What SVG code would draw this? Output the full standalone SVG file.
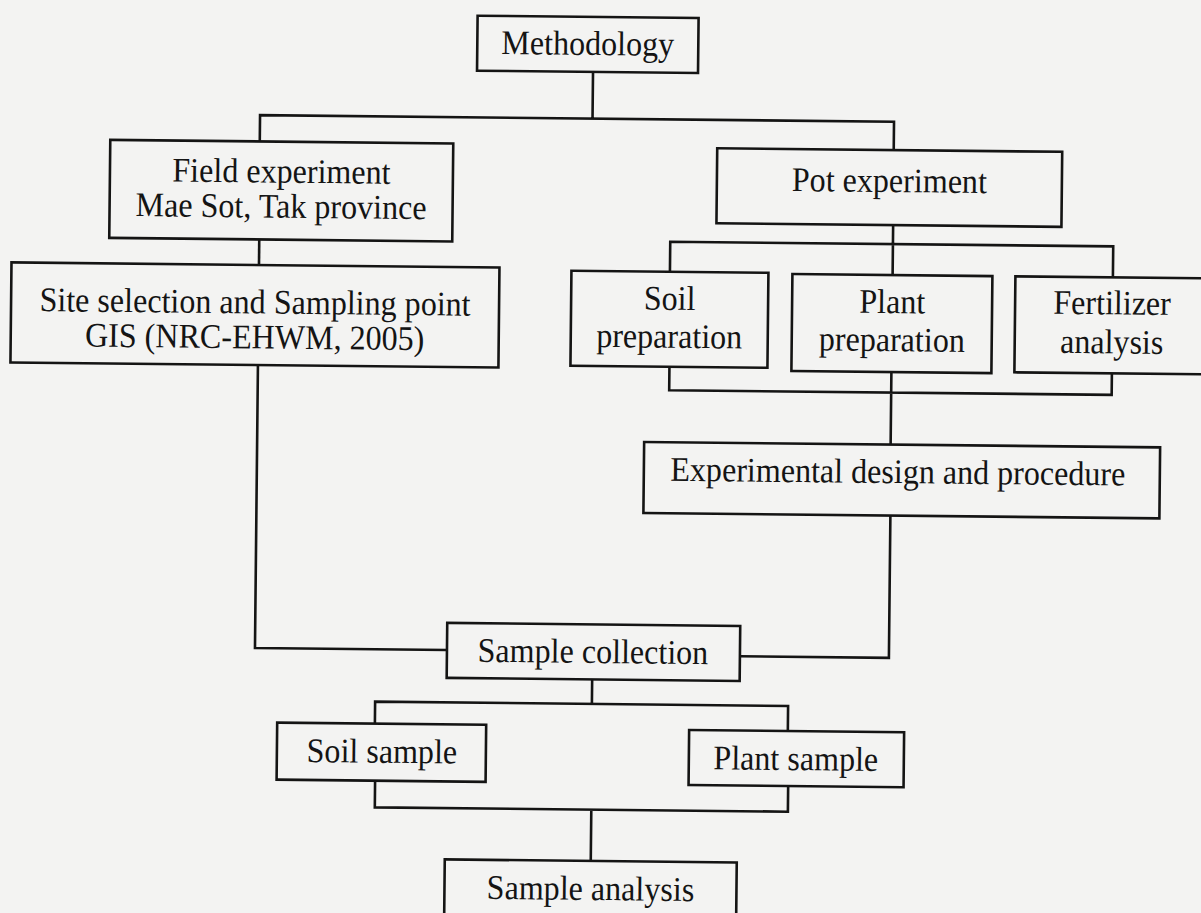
<svg xmlns="http://www.w3.org/2000/svg" width="1201" height="913" viewBox="0 0 1201 913">
<style>
.box{fill:none;stroke:#141414;stroke-width:2.6}
.conn{fill:none;stroke:#141414;stroke-width:2.6;stroke-linejoin:miter}
.label{font-family:"Liberation Serif","Times New Roman",serif;font-size:34.5px;fill:#141414;text-anchor:middle}
</style>
<rect x="0" y="0" width="1201" height="913" fill="#f3f3f2"/>
<g id="diagram" transform="rotate(0.6 600 456)">
<g id="connectors">
<path class="conn" d="M589 72 V118.7 M256.5 145 V118.7 H890.5 V147"/>
<path class="conn" d="M257 243 V268.6"/>
<path class="conn" d="M257 368.6 V651.6 H449"/>
<path class="conn" d="M890.7 222 V272 M668 271 V241 H1111 V272"/>
<path class="conn" d="M668.5 366 V389.5 H1111 V368 M890.5 369 V441.5"/>
<path class="conn" d="M891 512.3 V654.8 H742"/>
<path class="conn" d="M594.5 679.5 V704 M377.7 726 V704 H790.7 V729"/>
<path class="conn" d="M378.5 783 V809.7 H791.6 V784 M595 809.7 V861"/>
</g>
<g id="methodology"><rect class="box" x="473" y="17" width="221" height="55"/><text class="label" transform="translate(583.5 55) scale(0.93 1)">Methodology</text></g>
<g id="field-experiment"><rect class="box" x="107" y="145" width="343" height="98"/><text class="label" transform="translate(278.5 186) scale(0.93 1)">Field experiment</text><text class="label" transform="translate(278.5 221) scale(0.93 1)">Mae Sot, Tak province</text></g>
<g id="site-selection"><rect class="box" x="9.5" y="268.6" width="488" height="100"/><text class="label" transform="translate(253.5 317) scale(0.93 1)">Site selection and Sampling point</text><text class="label" transform="translate(253.5 352) scale(0.93 1)">GIS (NRC-EHWM, 2005)</text></g>
<g id="pot-experiment"><rect class="box" x="714" y="147" width="345" height="75"/><text class="label" transform="translate(886.5 189) scale(0.93 1)">Pot experiment</text></g>
<g id="soil-preparation"><rect class="box" x="569.5" y="271" width="197" height="95"/><text class="label" transform="translate(668 309) scale(0.93 1)">Soil</text><text class="label" transform="translate(668 347) scale(0.93 1)">preparation</text></g>
<g id="plant-preparation"><rect class="box" x="790.5" y="272" width="200" height="97"/><text class="label" transform="translate(890.6 310) scale(0.93 1)">Plant</text><text class="label" transform="translate(890.6 348) scale(0.93 1)">preparation</text></g>
<g id="fertilizer-analysis"><rect class="box" x="1013.5" y="272" width="195" height="96"/><text class="label" transform="translate(1110.5 309) scale(0.93 1)">Fertilizer</text><text class="label" transform="translate(1110.5 348) scale(0.93 1)">analysis</text></g>
<g id="experimental-design"><rect class="box" x="644" y="441.5" width="516" height="71"/><text class="label" transform="translate(898 480) scale(0.93 1)">Experimental design and procedure</text></g>
<g id="sample-collection"><rect class="box" x="449" y="624.5" width="293" height="55"/><text class="label" transform="translate(595 663) scale(0.93 1)">Sample collection</text></g>
<g id="soil-sample"><rect class="box" x="280" y="726" width="209" height="57"/><text class="label" transform="translate(385 765) scale(0.93 1)">Soil sample</text></g>
<g id="plant-sample"><rect class="box" x="692" y="729" width="215" height="55"/><text class="label" transform="translate(799 768) scale(0.93 1)">Plant sample</text></g>
<g id="sample-analysis"><rect class="box" x="449" y="861" width="292" height="80"/><text class="label" transform="translate(595 900) scale(0.93 1)">Sample analysis</text></g>
</g>
</svg>
